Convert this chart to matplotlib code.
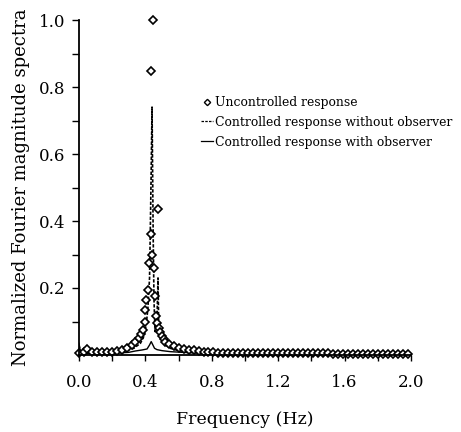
import matplotlib
matplotlib.use("Agg")
import matplotlib.pyplot as plt
from matplotlib.lines import Line2D

# --- данные ----------------------------------------------------------------
# неуправляемый отклик (ромбы)
unc_freq = [0.00, 0.03, 0.05, 0.08, 0.11, 0.14, 0.17, 0.20, 0.23, 0.26,
            0.29, 0.32, 0.34, 0.36, 0.375, 0.385, 0.395, 0.40, 0.405, 0.415,
            0.42, 0.434, 0.436, 0.446, 0.44, 0.45, 0.455, 0.465, 0.47, 0.476,
            0.48, 0.49, 0.50, 0.51, 0.52, 0.54, 0.57, 0.60, 0.63, 0.66,
            0.69, 0.72, 0.75, 0.78, 0.81, 0.84, 0.87, 0.90, 0.93, 0.96,
            0.99, 1.02, 1.05, 1.08, 1.11, 1.14, 1.17, 1.20, 1.23, 1.26,
            1.29, 1.32, 1.35, 1.38, 1.41, 1.44, 1.47, 1.50, 1.53, 1.56,
            1.59, 1.62, 1.65, 1.68, 1.71, 1.74, 1.77, 1.80, 1.83, 1.86,
            1.89, 1.92, 1.95, 1.98]
unc_mag = [0.006, 0.010, 0.018, 0.008, 0.008, 0.009, 0.009, 0.010, 0.012, 0.015,
           0.022, 0.030, 0.038, 0.050, 0.062, 0.075, 0.100, 0.135, 0.165, 0.195,
           0.275, 0.848, 0.360, 1.000, 0.300, 0.260, 0.175, 0.117, 0.095, 0.436,
           0.080, 0.068, 0.058, 0.048, 0.040, 0.032, 0.026, 0.022, 0.019, 0.016,
           0.014, 0.012, 0.010, 0.009, 0.008, 0.007, 0.007, 0.007, 0.006, 0.006,
           0.006, 0.006, 0.006, 0.006, 0.005, 0.005, 0.005, 0.005, 0.005, 0.005,
           0.005, 0.005, 0.005, 0.005, 0.005, 0.005, 0.005, 0.005, 0.004, 0.004,
           0.004, 0.004, 0.004, 0.004, 0.004, 0.004, 0.004, 0.004, 0.004, 0.004,
           0.004, 0.004, 0.004, 0.004]

# управляемый отклик без наблюдателя (пунктир)
noobs_freq = [0.00, 0.01, 0.10, 0.20, 0.28, 0.33, 0.37, 0.39, 0.405, 0.415,
              0.425, 0.432, 0.440, 0.447, 0.452, 0.458, 0.470, 0.476, 0.480, 0.490,
              0.50, 0.52, 0.55, 0.60, 0.70, 0.80, 1.00, 1.50, 2.00]
noobs_mag = [0.030, 0.005, 0.005, 0.007, 0.012, 0.020, 0.035, 0.055, 0.090, 0.140,
             0.230, 0.450, 0.740, 0.350, 0.160, 0.070, 0.110, 0.230, 0.090, 0.060,
             0.045, 0.030, 0.020, 0.013, 0.008, 0.006, 0.005, 0.004, 0.003]

# управляемый отклик с наблюдателем (сплошная)
obs_freq = [0.00, 0.01, 0.10, 0.20, 0.30, 0.34, 0.38, 0.41, 0.425, 0.435,
            0.445, 0.455, 0.47, 0.50, 0.55, 0.62, 0.70, 0.80, 1.00, 1.50, 2.00]
obs_mag = [0.035, 0.004, 0.004, 0.005, 0.008, 0.012, 0.015, 0.018, 0.030, 0.040,
           0.030, 0.020, 0.016, 0.013, 0.010, 0.008, 0.006, 0.005, 0.004, 0.003, 0.003]

x_ticks = [0.0, 0.2, 0.4, 0.6, 0.8, 1.0, 1.2, 1.4, 1.6, 1.8, 2.0]
x_labels = ["0.0", "", "0.4", "", "0.8", "", "1.2", "", "1.6", "", "2.0"]
y_major = [0.2, 0.4, 0.6, 0.8, 1.0]
y_minor = [0.1, 0.3, 0.5, 0.7, 0.9]

legend_labels = ["Uncontrolled response",
                 "Controlled response without observer",
                 "Controlled response with observer"]

plt.rcParams["font.family"] = ["DejaVu Serif"]

fig = plt.figure(figsize=(4.61, 4.32), dpi=100)
ax = fig.add_axes([79 / 461, 1 - 355 / 432, 332 / 461, 335 / 432])

ax.plot(obs_freq, obs_mag, color="black", lw=1.0)
ax.plot(noobs_freq, noobs_mag, color="black", lw=1.2, linestyle=(0, (2, 1)))
ax.plot(unc_freq, unc_mag, linestyle="none", marker="D", ms=3.6,
        mfc="white", mec="black", mew=1.2, clip_on=False)

ax.set_xlim(0, 2.0)
ax.set_ylim(0, 1.0)
ax.set_xticks(x_ticks)
ax.set_xticklabels(x_labels, fontsize=12)
ax.set_yticks(y_major)
ax.set_yticklabels([f"{v:.1f}" for v in y_major], fontsize=12)
ax.set_yticks(y_minor, minor=True)
ax.tick_params(axis="x", direction="out", length=4, width=1, pad=10)
ax.tick_params(axis="y", which="both", direction="out", length=5, width=1, pad=5)
ax.spines[["top", "right"]].set_visible(False)
ax.spines["left"].set_linewidth(1.3)
ax.spines["bottom"].set_linewidth(1.3)

ax.set_xlabel("Frequency (Hz)", fontsize=12.5, labelpad=14)
ax.set_ylabel("Normalized Fourier magnitude spectra", fontsize=13, labelpad=6)

handles = [
    Line2D([], [], linestyle="none", marker="D", ms=3.2, mfc="white",
           mec="black", mew=1.0),
    Line2D([], [], color="black", lw=0.9, linestyle=(0, (2, 1))),
    Line2D([], [], color="black", lw=0.9),
]
fig.legend(handles, legend_labels, loc="upper left",
           bbox_to_anchor=(201 / 461, 1 - 96 / 432), frameon=False,
           fontsize=8.9, handlelength=1.0, handletextpad=0.15,
           labelspacing=0.55, borderpad=0, borderaxespad=0)

fig.savefig("out.png", dpi=100)
